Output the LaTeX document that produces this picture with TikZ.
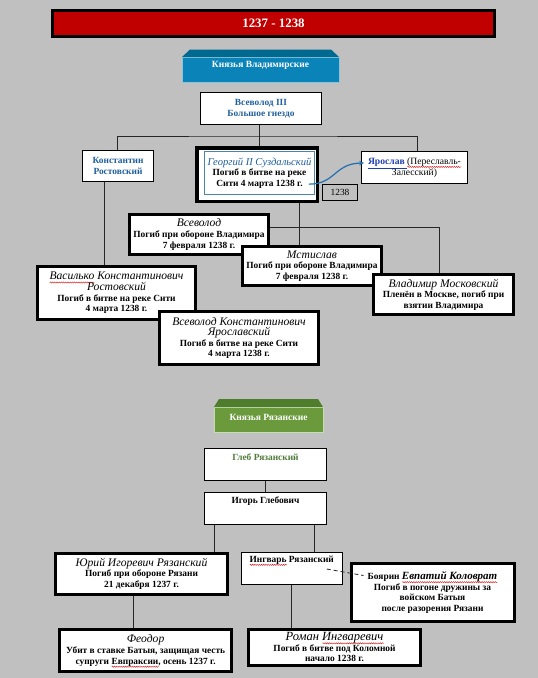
\documentclass[tikz,border=0pt]{standalone}
\usepackage{fontspec}
\setmainfont{Liberation Serif}
\usetikzlibrary{arrows.meta,decorations.pathmorphing}
\definecolor{bggrey}{HTML}{C0C0C0}
\definecolor{barred}{HTML}{C00000}
\definecolor{bannerblue}{HTML}{0A84B8}
\definecolor{bannerbluetop}{HTML}{00698F}
\definecolor{bannerblueedge}{HTML}{8CC4DC}
\definecolor{bannergreen}{HTML}{6A9A3C}
\definecolor{bannergreentop}{HTML}{4E7D2B}
\definecolor{bannergreenedge}{HTML}{C5DDB0}
\definecolor{txtblue}{HTML}{1F5FA0}
\definecolor{linkblue}{HTML}{1F3FB0}
\definecolor{innerblue}{HTML}{4A84B4}
\definecolor{arrowblue}{HTML}{1F6FB5}
\definecolor{txtgreen}{HTML}{4F7A3A}
\definecolor{spellred}{HTML}{E02020}
\newcommand\spellwave[1]{\setbox0=\hbox{#1}\rlap{\raisebox{0pt}[0pt][0pt]{\tikz[baseline=0pt]\draw[spellred, line width=0.45pt, decorate, decoration={snake, amplitude=0.6pt, segment length=2.2pt}] (0pt,-2.6pt) -- (\the\wd0,-2.6pt);}}\box0\relax}
\newcommand\pnm{\mdseries\itshape\fontsize{11.6}{12.4}\selectfont}
\tikzset{
  body/.style={font=\bfseries\fontsize{9.4}{10.6}\selectfont, align=center, inner sep=0pt},
  thinbox/.style={body, draw=black, line width=0.8pt, fill=white},
  thickbox/.style={body, draw=black, line width=3pt, fill=white},
  conn/.style={draw=black!85, line width=0.8pt},
  bannertext/.style={font=\bfseries\fontsize{9.5}{10}\selectfont, text=white, inner sep=0pt}
}
\begin{document}
\begin{tikzpicture}[x=1pt,y=-1pt]
\useasboundingbox (0,0) rectangle (538,678);
\fill[bggrey] (0,0) rectangle (538,678);

% title bar
\node[draw=black, line width=3pt, fill=barred, minimum width=442pt, minimum height=26.5pt,
      font=\bfseries\fontsize{12.9}{14}\selectfont, text=white, inner sep=0pt] (title) at (273.5,23.3) {1237 - 1238};

% blue banner
\fill[bannerblue, draw=bannerblueedge, line width=0.6pt] (182,57) rectangle (339,82);
\fill[bannerbluetop] (190,49.5) -- (331,49.5) -- (339,57) -- (182,57) -- cycle;
\node[bannertext] (bannerV) at (260.5,65) {Князья Владимирские};

% Vladimir princes
\node[thinbox, minimum width=121pt, minimum height=32pt, text=txtblue] (vs3) at (261,108.5) {Всеволод III\\Большое гнездо};
\node[thinbox, minimum width=71pt, minimum height=31pt, text=txtblue] (konst) at (118,166) {Константин\\Ростовский};
\node[thickbox, line width=3.5pt, minimum width=120.5pt, minimum height=53.5pt] (georg) at (257,174.5) {};
\node[body, draw=innerblue, line width=0.8pt, minimum width=110pt, minimum height=43.5pt] (georgIn) at (259.5,173)
  {{\mdseries\itshape\fontsize{10.6}{11.6}\selectfont\color{txtblue}Георгий II Суздальский}\\Погиб в битве на реке\\Сити 4 марта 1238 г.};
\node[thinbox, minimum width=106pt, minimum height=32pt, font=\mdseries\fontsize{9.6}{11}\selectfont] (yarosl) at (414.5,167.5)
  {\textcolor{linkblue}{\bfseries\underline{Ярослав }}\spellwave{(Переславль-}\\Залесский)};
\node[body, draw=black, line width=0.6pt, fill=bggrey, minimum width=35pt, minimum height=16pt, font=\mdseries\fontsize{9.4}{10}\selectfont] (y1238) at (340,192) {1238};

\node[thickbox, minimum width=139pt, minimum height=40pt] (vsev) at (199,234.5)
  {{\pnm Всеволод}\\Погиб при обороне Владимира\\7 февраля 1238 г.};
\node[thickbox, minimum width=139pt, minimum height=39pt] (mstis) at (312,266)
  {{\pnm Мстислав}\\Погиб при обороне Владимира\\7 февраля 1238 г.};
\node[thickbox, minimum width=140pt, minimum height=40pt] (vlad) at (443.5,294.5)
  {{\pnm Владимир Московский}\\Пленён в Москве, погиб при\\взятии Владимира};
\node[thickbox, minimum width=158pt, minimum height=53pt] (vasil) at (116.5,293)
  {{\pnm \spellwave{Василько} Константинович}\\{\pnm Ростовский}\\Погиб в битве на реке Сити\\4 марта 1238 г.};
\node[thickbox, minimum width=159pt, minimum height=53pt] (vsevK) at (239,338)
  {{\pnm Всеволод Константинович}\\{\pnm Ярославский}\\Погиб в битве на реке Сити\\4 марта 1238 г.};

% connectors (Vladimir)
\coordinate (hubV) at (259,136);
\draw[conn] ([xshift=-2pt]vs3.south) -- ([xshift=-2pt]vs3.south |- georg.north);
\draw[conn] ([xshift=-1pt]konst.north) |- (hubV) -| ([xshift=2.5pt]yarosl.north);
\draw[conn] ([xshift=-14pt]konst.south) -- ([xshift=-14pt]konst.south |- vasil.north);
\draw[conn] ([xshift=-12.4pt]mstis.north |- georg.south) -- ([xshift=-12.4pt]mstis.north);
\draw[conn] ([yshift=7.5pt]vsev.east) -| ([xshift=-4.5pt]vlad.north);
\coordinate (arrowStart) at ([xshift=-6pt,yshift=11pt]georgIn.south east);
\draw[arrowblue, line width=1.2pt, -{Stealth[length=5pt,width=4.5pt]}] (arrowStart) .. controls (336,184) and (334,163.5) .. ([xshift=3pt,yshift=4.5pt]yarosl.west);

% green banner
\fill[bannergreen, draw=bannergreenedge, line width=0.6pt] (214,407) rectangle (323,432);
\fill[bannergreentop] (219,399) -- (318,399) -- (323,407) -- (214,407) -- cycle;
\node[bannertext] (bannerR) at (268.5,417) {Князья Рязанские};

% Ryazan princes
\node[thinbox, minimum width=122pt, minimum height=32pt] (gleb) at (265.5,464.5) {};
\node[body, text=txtgreen] (glebT) at (265.5,457) {Глеб Рязанский};
\node[thinbox, minimum width=122pt, minimum height=32pt] (igor) at (265.5,508.5) {};
\node[body] (igorT) at (265.5,501) {Игорь Глебович};
\node[thickbox, minimum width=172pt, minimum height=41pt] (yuriy) at (141.5,573.5)
  {{\pnm Юрий Игоревич Рязанский}\\Погиб при обороне Рязани\\21 декабря 1237 г.};
\node[thinbox, minimum width=100.5pt, minimum height=32.5pt] (ingvar) at (291.75,568.5) {};
\node[body] (ingvarT) at (291.75,560) {\spellwave{Ингварь} Рязанский};
\node[thickbox, minimum width=163pt, minimum height=58pt] (kolov) at (432.5,592.5)
  {Боярин {\pnm\bfseries\fontsize{11}{12}\selectfont\spellwave{Евпатий Коловрат}}\\Погиб в погоне дружины за\\войском Батыя\\после разорения Рязани};
\node[thickbox, minimum width=171.5pt, minimum height=42pt] (feodor) at (145.6,650.5)
  {{\pnm Феодор}\\Убит в ставке Батыя, защищая честь\\супруги \spellwave{Евпраксии}, осень 1237 г.};
\node[thickbox, minimum width=172pt, minimum height=36pt] (roman) at (334.5,647.3)
  {{\pnm\fontsize{12.5}{13}\selectfont Роман \spellwave{Ингваревич}}\\Погиб в битве под Коломной\\начало 1238 г.};

% connectors (Ryazan)
\draw[conn] (gleb.south) -- (igor.north);
\draw[conn] ([xshift=-51pt]igor.south) -- ([xshift=-51pt]igor.south |- yuriy.north);
\draw[conn] ([xshift=48.5pt]igor.south) -- ([xshift=48.5pt]igor.south |- ingvar.north);
\draw[conn] ([xshift=-8.5pt]yuriy.south) -- ([xshift=-8.5pt]yuriy.south |- feodor.north);
\draw[conn] (ingvar.south) -- (ingvar.south |- roman.north);
\draw[conn, dashed, dash pattern=on 4pt off 3pt] ([xshift=35pt,yshift=-0.5pt]ingvar.center) -- ([xshift=-69pt,yshift=17pt]kolov.center);
\end{tikzpicture}
\end{document}
